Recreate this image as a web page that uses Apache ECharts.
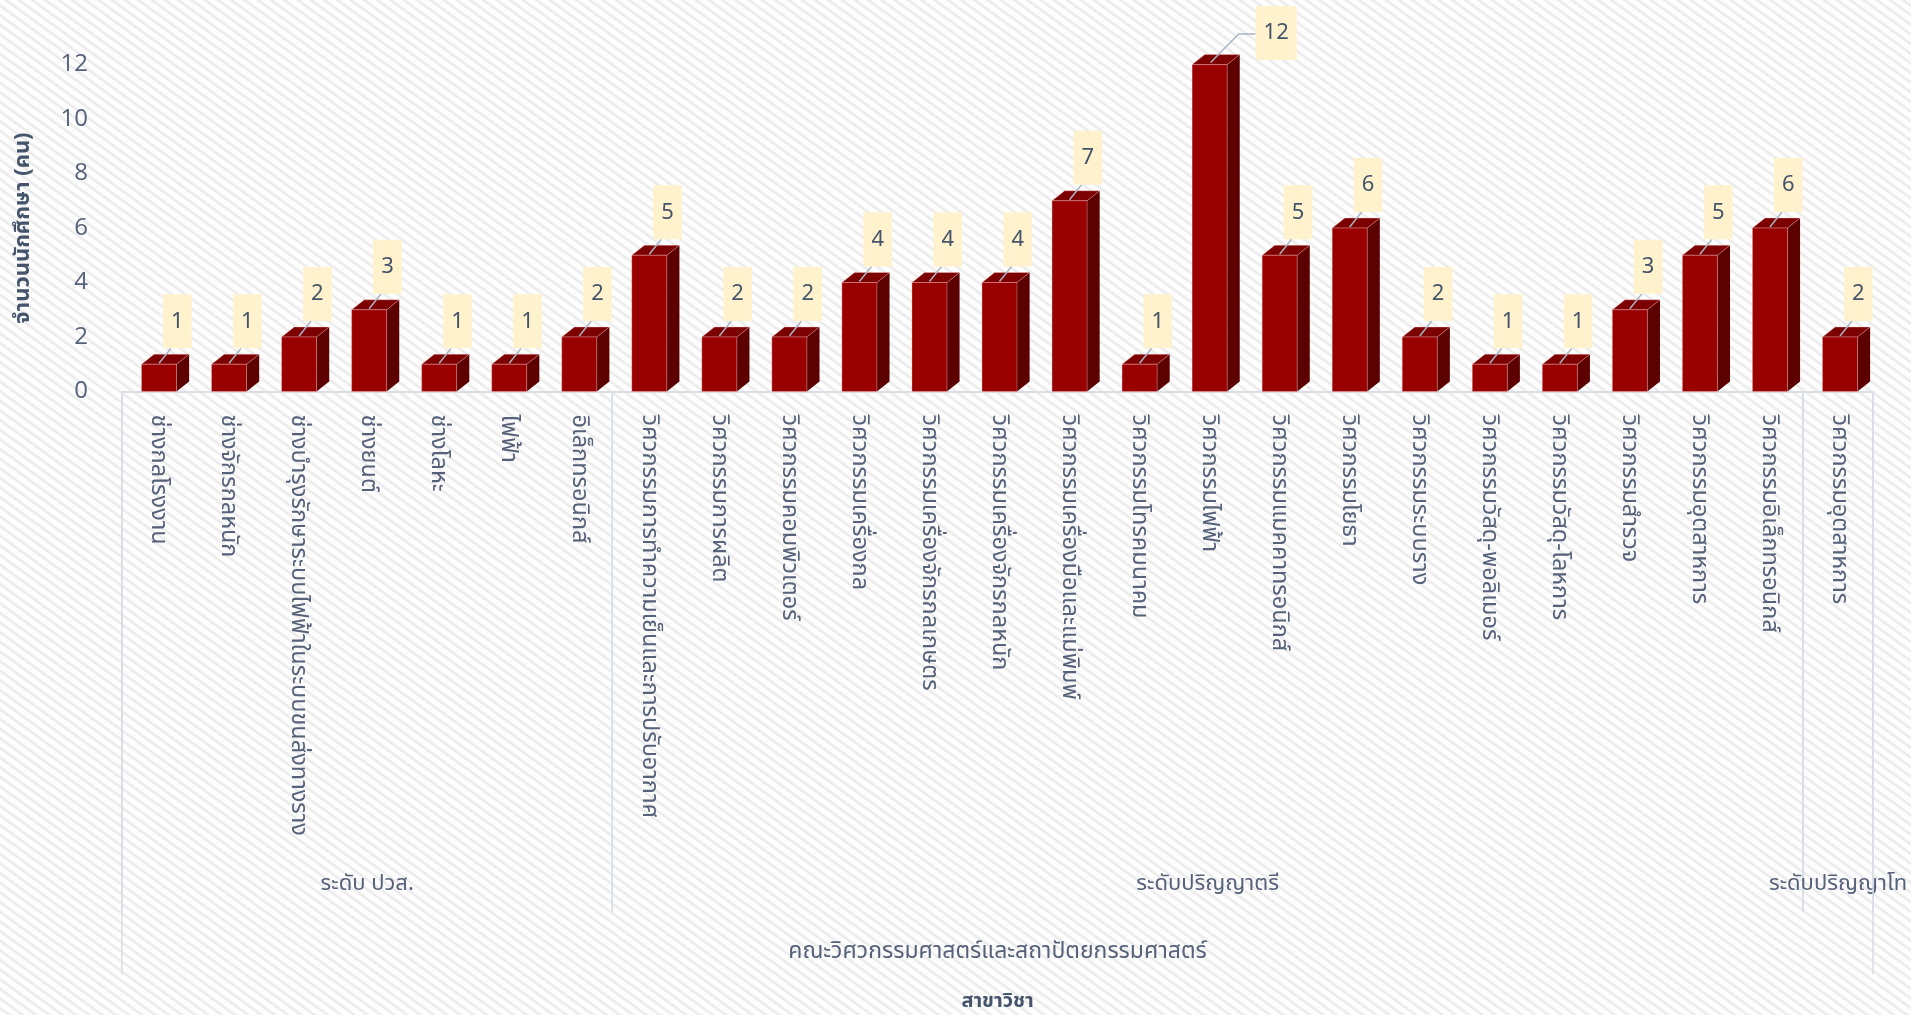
<!DOCTYPE html>
<html>
<head>
<meta charset="utf-8">
<script src="https://cdn.jsdelivr.net/npm/echarts@6/dist/echarts.min.js"></script>
<style>
html,body{margin:0;padding:0;width:1911px;height:1015px;overflow:hidden;}
#main{width:1911px;height:1015px;
background: repeating-linear-gradient(36deg, #fefefe 0px, #fefefe 3.4px, #e8e8e8 5.4px, #fefefe 7.8px);}
</style>
</head>
<body>
<div id="main"></div>
<script>
// ---- data ----
const programs = [
  'ช่างกลโรงงาน','ช่างจักรกลหนัก','ช่างบำรุงรักษาระบบไฟฟ้าในระบบขนส่งทางราง','ช่างยนต์','ช่างโลหะ','ไฟฟ้า','อิเล็กทรอนิกส์',
  'วิศวกรรมการทำความเย็นและการปรับอากาศ','วิศวกรรมการผลิต','วิศวกรรมคอมพิวเตอร์','วิศวกรรมเครื่องกล','วิศวกรรมเครื่องจักรกลเกษตร',
  'วิศวกรรมเครื่องจักรกลหนัก','วิศวกรรมเครื่องมือและแม่พิมพ์','วิศวกรรมโทรคมนาคม','วิศวกรรมไฟฟ้า','วิศวกรรมแมคคาทรอนิกส์',
  'วิศวกรรมโยธา','วิศวกรรมระบบราง','วิศวกรรมวัสดุ-พอลิเมอร์','วิศวกรรมวัสดุ-โลหการ','วิศวกรรมสำรวจ','วิศวกรรมอุตสาหการ',
  'วิศวกรรมอิเล็กทรอนิกส์','วิศวกรรมอุตสาหการ'
];
const students = [1,1,2,3,1,1,2, 5,2,2,4,4,4,7,1,12,5,6,2,1,1,3,5,6,2];
const levelNames = ['ระดับ ปวส.','ระดับปริญญาตรี','ระดับปริญญาโท'];
const levelCounts = [7,17,1];
const facultyName = 'คณะวิศวกรรมศาสตร์และสถาปัตยกรรมศาสตร์';
const yAxisName = 'จำนวนนักศึกษา (คน)';
const xAxisName = 'สาขาวิชา';

const FONT = '"Noto Sans Thai","Noto Sans","Open Sans",sans-serif';
const TXT = '#56627a';
const LINE = '#d8dde6';

// level ranges built from counts
const levelData = [];
let start = 0;
levelCounts.forEach((n, i) => { levelData.push([start, start + n - 1, i]); start += n; });
const facultyData = [[0, programs.length - 1]];

const chart = echarts.init(document.getElementById('main'), null, {renderer: 'canvas'});

function renderBar(params, api) {
  const idx = api.value(0), val = api.value(1);
  const top = api.coord([idx, val]);
  const base = api.coord([idx, 0]);
  const band = api.size([1, 0])[0];
  const w = band * 0.5, dx = band * 0.18, dy = 10;
  const fx = top[0] - w / 2 + 2;
  const ty = top[1], by = base[1];
  const children = [
    {type: 'polygon', shape: {points: [[fx + w, ty], [fx + w + dx, ty - dy], [fx + w + dx, by - dy], [fx + w, by]]},
     style: {fill: '#5c0000'}},
    {type: 'polygon', shape: {points: [[fx, ty], [fx + dx, ty - dy], [fx + w + dx, ty - dy], [fx + w, ty]]},
     style: {fill: '#7c0000', stroke: 'rgba(255,200,200,0.35)', lineWidth: 1}},
    {type: 'rect', shape: {x: fx, y: ty, width: w, height: by - ty},
     style: {fill: '#990000', stroke: 'rgba(255,190,190,0.35)', lineWidth: 1}}
  ];
  // data label callout
  const cx = top[0] + 2;
  const boxH = 54;
  let boxLeft = cx + 4;
  let boxBottom = ty - 16;
  let line;
  if (boxBottom - boxH < 4) {
    boxBottom = 6 + boxH;
    boxLeft = cx + 46;
    const ly = boxBottom - boxH + 28;
    line = [[cx + 1, ty - 2], [boxLeft - 17, ly], [boxLeft, ly]];
  } else {
    line = [[cx, ty - 1], [boxLeft + 8, boxBottom]];
  }
  children.push({type: 'polyline', shape: {points: line}, style: {stroke: '#a9b4c4', lineWidth: 1.5, fill: null}});
  children.push({type: 'text', x: boxLeft, y: boxBottom,
    style: {text: String(val), fill: '#44546a', font: '22px "Noto Sans","Open Sans",sans-serif',
      align: 'left', verticalAlign: 'bottom', backgroundColor: '#fff2cc', padding: [16, 8, 16, 8]}});
  return {type: 'group', children};
}

function renderGroup(depth, labelUp, names, fontSize) {
  return function (params, api) {
    const s = api.value(0), e = api.value(1);
    const band = api.size([1, 0])[0];
    const x0 = api.coord([s, 0])[0] - band / 2;
    const x1 = api.coord([e, 0])[0] + band / 2;
    const y0 = api.coord([s, 0])[1];
    const label = names(api);
    return {type: 'group', children: [
      {type: 'line', shape: {x1: x0, y1: y0, x2: x0, y2: y0 + depth}, style: {stroke: LINE, lineWidth: 1.5}},
      {type: 'line', shape: {x1: x1, y1: y0, x2: x1, y2: y0 + depth}, style: {stroke: LINE, lineWidth: 1.5}},
      {type: 'text', x: (x0 + x1) / 2, y: y0 + depth - labelUp,
       style: {text: label, fill: TXT, font: fontSize + 'px ' + FONT, align: 'center', verticalAlign: 'middle'}}
    ]};
  };
}

chart.setOption({
  backgroundColor: 'transparent',
  animation: false,
  grid: {left: 122, right: 38, top: 64.6, bottom: 623.5, outerBoundsMode: 'none', containLabel: false},
  xAxis: {
    type: 'category',
    data: programs,
    name: xAxisName,
    nameLocation: 'middle',
    nameGap: 601,
    nameTextStyle: {color: '#44546a', fontSize: 20, fontWeight: 'bold', fontFamily: FONT},
    axisLine: {lineStyle: {color: LINE, width: 2}},
    axisTick: {show: false},
    axisLabel: {rotate: -90, interval: 0, margin: 23, color: TXT, fontSize: 23.5, fontFamily: FONT}
  },
  yAxis: {
    type: 'value',
    min: 0, max: 12, interval: 2,
    name: yAxisName,
    nameLocation: 'middle',
    nameGap: 86,
    nameTextStyle: {color: '#44546a', fontSize: 22, fontWeight: 'bold', fontFamily: FONT},
    axisLine: {show: false},
    axisTick: {show: false},
    splitLine: {show: false},
    axisLabel: {margin: 34, color: TXT, fontSize: 24, fontFamily: '"Open Sans","Noto Sans",sans-serif'}
  },
  series: [
    {type: 'custom', name: 'students', clip: false, renderItem: renderBar,
     data: students.map((v, i) => [i, v]), encode: {x: 0, y: 1}, z: 3},
    {type: 'custom', name: 'levels', clip: false, silent: true,
     renderItem: renderGroup(520, 26, api => levelNames[api.value(2)], 22),
     data: levelData, encode: {x: [0, 1]}, z: 2},
    {type: 'custom', name: 'faculty', clip: false, silent: true,
     renderItem: renderGroup(583, 21, () => facultyName, 23),
     data: facultyData, encode: {x: [0, 1]}, z: 2}
  ]
});
</script>
</body>
</html>
